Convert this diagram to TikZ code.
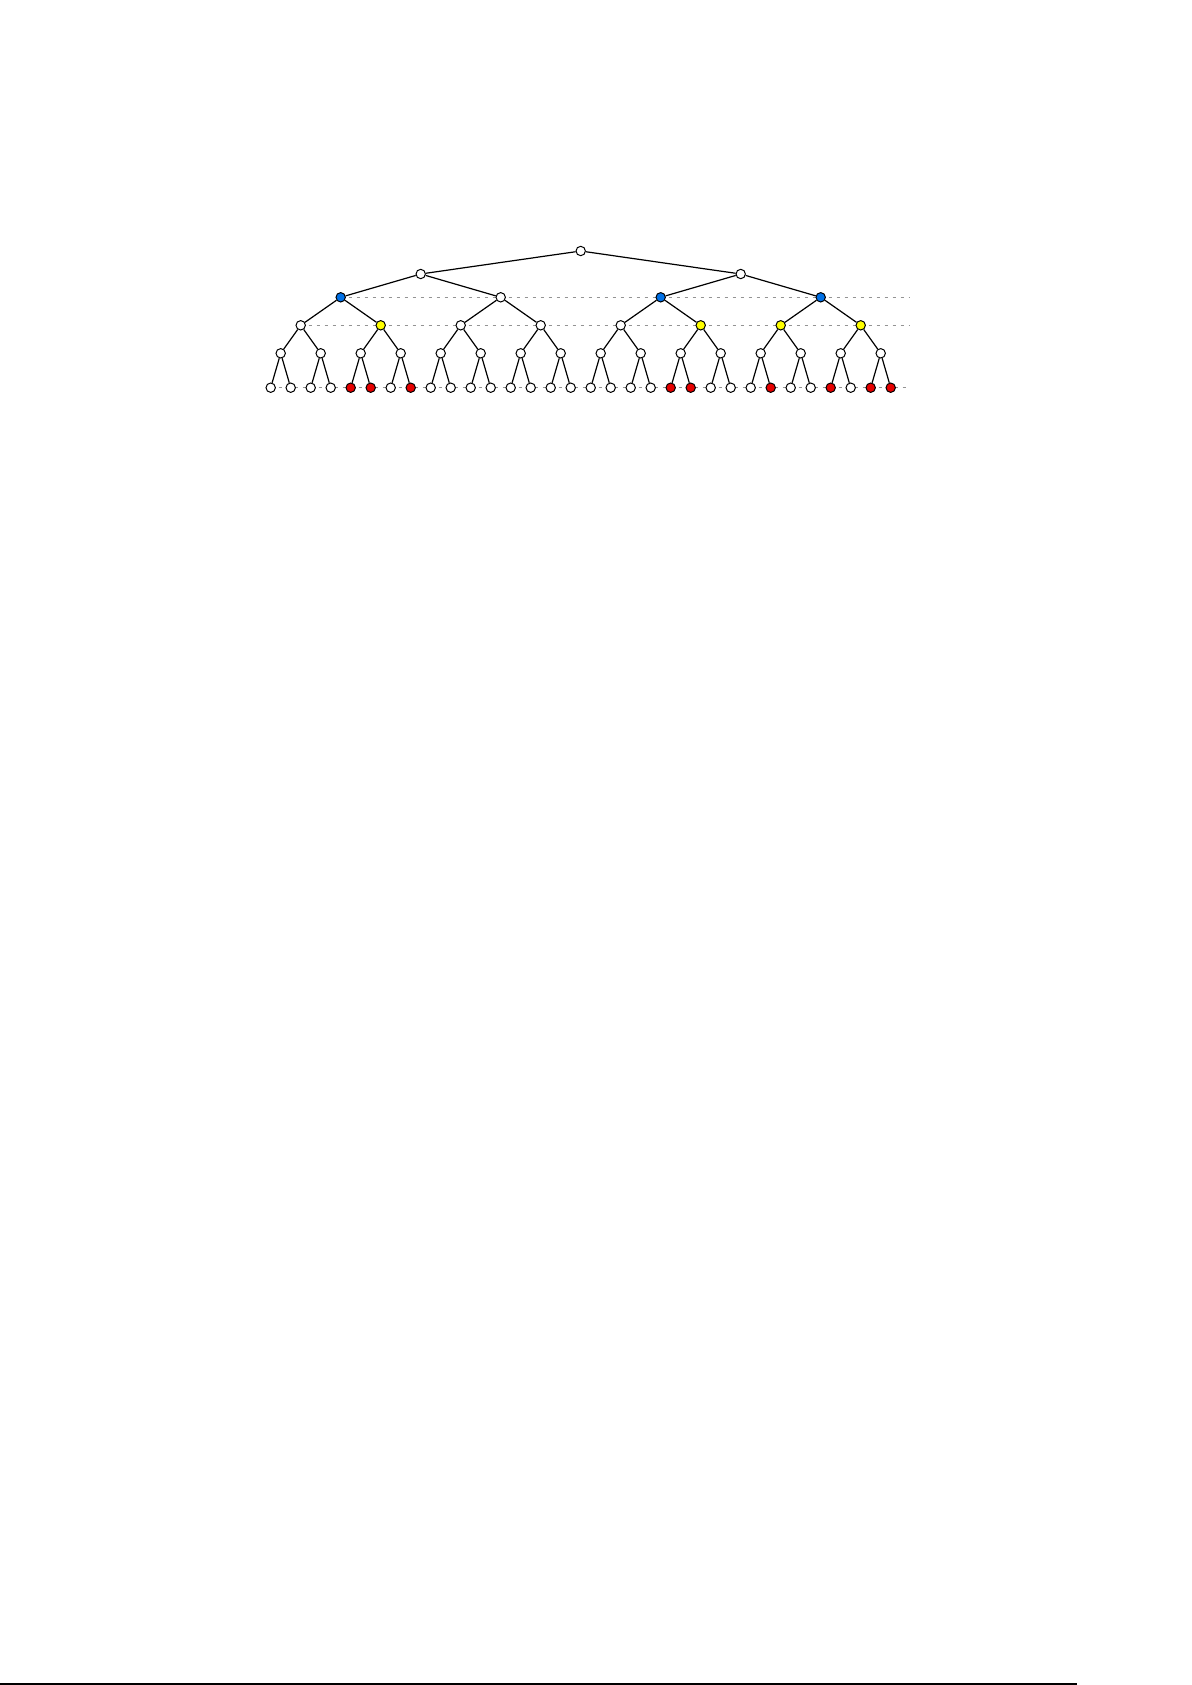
\documentclass[tikz,border=0pt]{standalone}
\usepackage[dvipsnames]{xcolor}
\usepackage{tikz}
\definecolor{vblue}{RGB}{0,112,230}
\definecolor{vyellow}{RGB}{255,255,0}
\definecolor{vred}{RGB}{230,0,0}

\begin{document}
\begin{tikzpicture}[x=0.5pt,y=-0.5pt,
    vert/.style={circle,draw=black,line width=0.5pt,inner sep=0pt,minimum size=4.7pt,fill=#1},
    vert/.default=white,
    guide/.style={gray!85,line width=0.4pt,dash pattern=on 1.7pt off 2.3pt}]
      \useasboundingbox (0,0) rectangle (1192,1685);
      \draw[guide] (340.7,297.3) -- (910,297.3);
      \draw[guide] (300.7,325.3) -- (910,325.3);
      \draw[guide] (270.7,387.7) -- (910,387.7);
      \node[vert] (l0-0) at (580.7,251) {};
      \foreach \c [count=\j from 0] in {white,white}
        \node[vert=\c] (l1-\j) at (420.7+320*\j,274) {};
      \foreach \c [count=\j from 0] in {vblue,white,vblue,vblue}
        \node[vert=\c] (l2-\j) at (340.7+160*\j,297.3) {};
      \foreach \c [count=\j from 0] in {white,vyellow,white,white,white,vyellow,vyellow,vyellow}
        \node[vert=\c] (l3-\j) at (300.7+80*\j,325.3) {};
      \foreach \j in {0,...,15}
        \node[vert] (l4-\j) at (280.7+40*\j,353.3) {};
      \foreach \c [count=\j from 0] in {white,white,white,white,vred,vred,white,vred,
                                        white,white,white,white,white,white,white,white,
                                        white,white,white,white,vred,vred,white,white,
                                        white,vred,white,white,vred,white,vred,vred}
        \node[vert=\c] (l5-\j) at (270.7+20*\j,387.7) {};
      \foreach \k/\m/\n in {1/0/1,2/1/3,3/2/7,4/3/15,5/4/31}
        \foreach \j in {0,...,\n}{
          \pgfmathtruncatemacro\p{floor(\j/2)}
          \draw[line width=0.6pt] (l\m-\p) -- (l\k-\j);
        }
      \draw[line width=0.6pt] (0,1684) -- (1077,1684);
\end{tikzpicture}
\end{document}
